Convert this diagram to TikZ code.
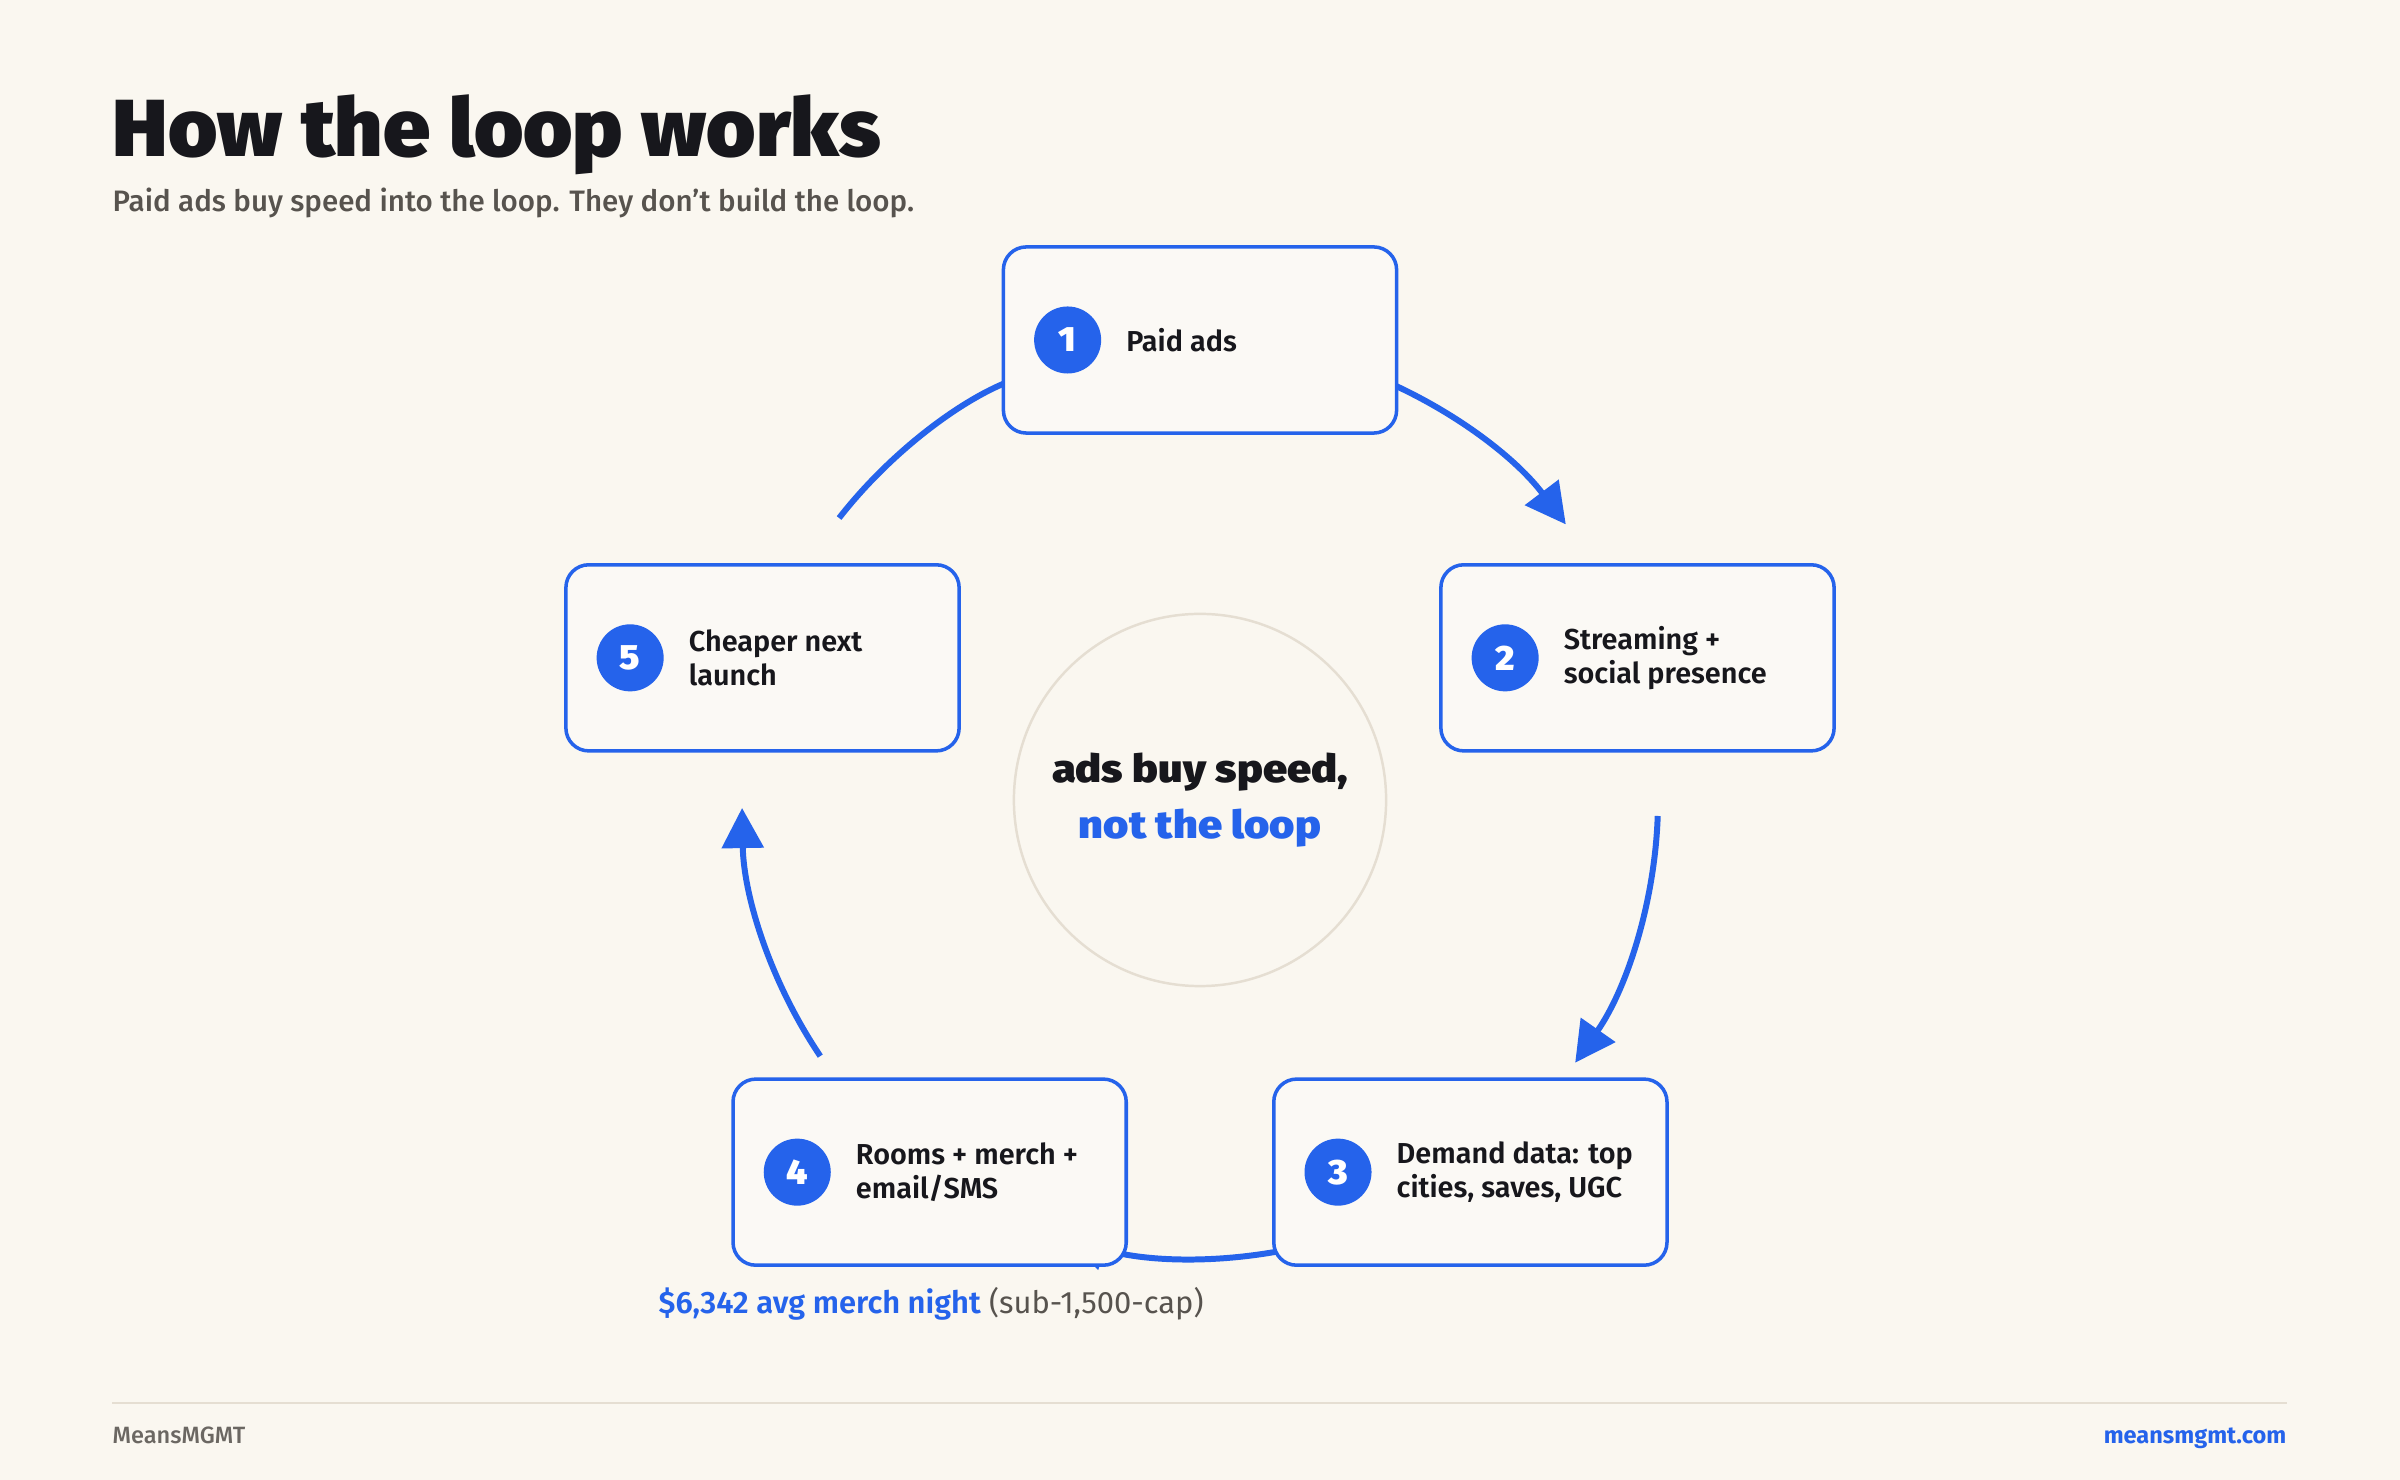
\documentclass[tikz,border=0pt]{standalone}
\usepackage{fontspec}
\setmainfont{Fira Sans}
\newfontfamily\headfont{Fira Sans Black}[FakeStretch=1.045]
\newfontfamily\mottofont{Fira Sans Black}[FakeStretch=1.12]
\newfontfamily\semifont{Fira Sans SemiBold}
\newfontfamily\medfont{Fira Sans Medium}
\usetikzlibrary{calc,arrows.meta}

\definecolor{paper}{HTML}{FAF7F0}
\definecolor{card}{HTML}{FBF9F5}
\definecolor{ink}{HTML}{17171C}
\definecolor{brand}{HTML}{2563EB}
\definecolor{subgray}{HTML}{57534E}
\definecolor{footgray}{HTML}{6B6762}
\definecolor{ringgray}{HTML}{E5DED2}

\begin{document}
\begin{tikzpicture}[x=0.01cm,y=0.01cm,
  stepbox/.style={draw=brand,line width=1pt,fill=card,rounded corners=6.5pt,
    minimum width=3.93cm,minimum height=1.86cm,inner sep=0pt},
  numdot/.style={circle,fill=brand,text=white,minimum size=0.67cm,inner sep=0pt,
    font=\headfont\fontsize{10}{10}\selectfont},
  steptext/.style={anchor=west,align=left,text=ink,inner sep=0pt,
    font=\semifont\fontsize{8.2}{9.7}\selectfont},
  flow/.style={draw=brand,line width=1.7pt,-{Triangle[length=11.4pt,width=11.7pt]}}]

\useasboundingbox (0,0) rectangle (2400,-1480);
\fill[paper] (0,0) rectangle (2400,-1480);

% heading
\node [anchor=base west,inner sep=0pt,text=ink,font=\headfont\fontsize{23}{23}\selectfont]
  (title) at (112,-157) {How the loop works};
\node [anchor=base west,inner sep=0pt,text=subgray,font=\medfont\fontsize{8.4}{9}\selectfont]
  (sub) at (112,-212) {Paid ads buy speed into the loop. They don’t build the loop.};

% centre
\node [circle,draw=ringgray,line width=0.7pt,minimum size=3.72cm,align=center,text=ink,
  font=\mottofont\fontsize{11}{15.9}\selectfont] (ctr) at (1200,-800)
  {ads buy speed,\\\textcolor{brand}{not the loop}};

% arcs between the steps
\foreach \a in {90,18,-54,-126,-198} {
\draw [flow] ($(ctr)+(\a-20:458)$) arc [start angle=\a-20,end angle=\a-53,radius=458];
}

% steps
\foreach \n/\ang/\txt in {1/90/{Paid ads},
                          2/18/{Streaming +\\social presence},
                          3/-54/{Demand data: top\\cities, saves, UGC},
                          4/-126/{Rooms + merch +\\email/SMS},
                          5/162/{Cheaper next\\launch}} {
\node [stepbox] (b\n) at ($(ctr)+(\ang:460)$) {};
\node [numdot] (d\n) at ($(b\n.west)+(66,0)$) {\n};
\node [steptext] (t\n) at ($(b\n.west)+(124,0)$) {\txt};
}

\node [anchor=base west,inner sep=0pt,text=subgray,font=\fontsize{8.8}{10}\selectfont]
  (merch) at (658,-1313) {\textcolor{brand}{\semifont \$6,342 avg merch night} (sub-1,500-cap)};

% footer
\coordinate (fl) at (112,-1403);
\coordinate (fr) at (2287,-1403);
\draw [ringgray,line width=0.6pt] (fl) -- (fr);
\node [anchor=base west,inner sep=0pt,text=footgray,font=\medfont\fontsize{6.7}{8}\selectfont]
  (brandl) at (112,-1443) {MeansMGMT};
\node [anchor=base east,inner sep=0pt,text=brand,font=\bfseries\fontsize{6.7}{8}\selectfont]
  (brandr) at (2287,-1443) {meansmgmt.com};

\end{tikzpicture}
\end{document}
